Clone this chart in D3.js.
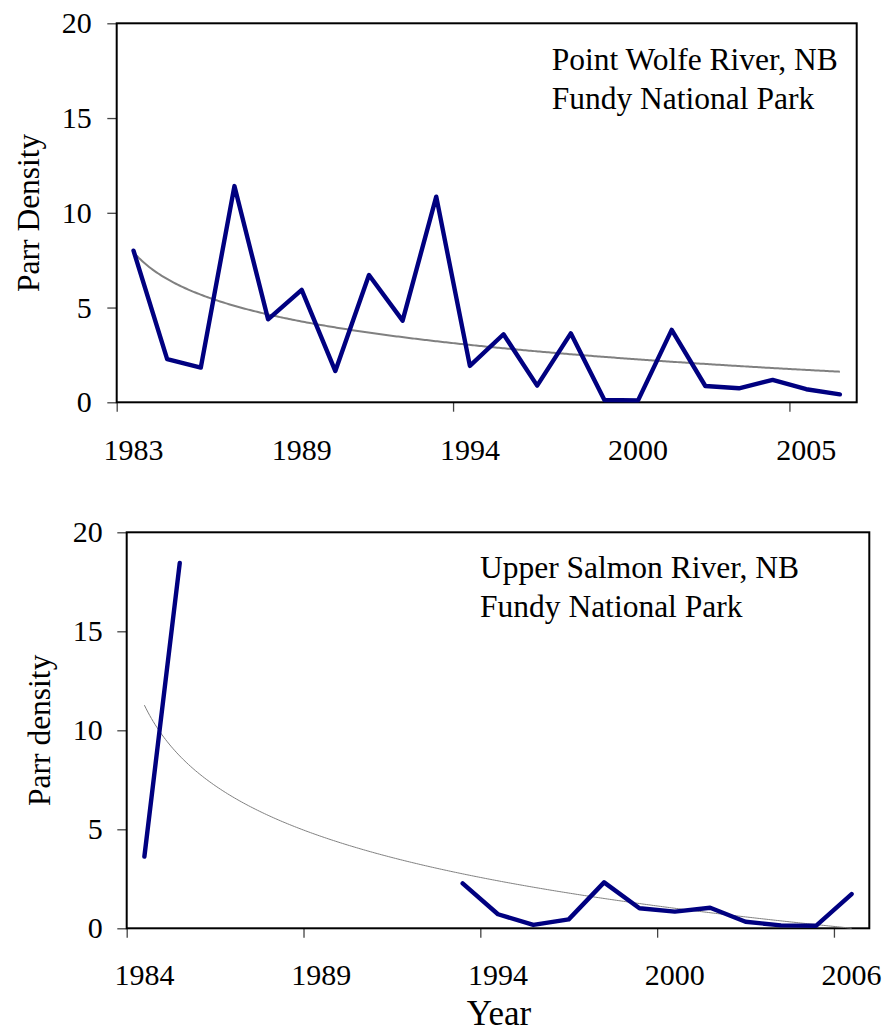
<!DOCTYPE html>
<html>
<head>
<meta charset="utf-8">
<script src="https://cdn.jsdelivr.net/npm/d3@7"></script>
<style>
  html, body { margin: 0; padding: 0; background: #fff; }
  svg { display: block; }
  text { font-family: "Liberation Serif", "Times New Roman", serif; fill: #000; }
</style>
</head>
<body>
<svg id="chart" width="885" height="1033"></svg>
<script>
// ---------- DATA ----------
const topYears = [1983,1984,1985,1986,1987,1989,1990,1991,1992,1993,1994,1995,1996,1997,1998,2000,2001,2002,2003,2004,2005,2006];
const topValues = [8.0,2.28,1.83,11.41,4.38,5.93,1.65,6.72,4.31,10.85,1.92,3.59,0.88,3.64,0.12,0.1,3.82,0.86,0.74,1.18,0.69,0.42];
const topLabelYears = [1983,1989,1994,2000,2005];
const topTickEvery = 10;
const topTrend = [-2.04, 7.92];      // logarithmic trendline: a*ln(x)+b
const topTitle = "Parr Density";
const topNote = ["Point Wolfe River, NB", "Fundy National Park"];

const botYears = [1984,1985,1986,1987,1988,1989,1990,1991,1992,1993,1994,1995,1996,1997,1998,2000,2001,2002,2003,2004,2006];
const botValues = [3.62,18.45,null,null,null,null,null,null,null,2.27,0.71,0.17,0.45,2.32,1.01,0.84,1.04,0.33,0.15,0.13,1.73];
const botLabelYears = [1984,1989,1994,2000,2006];
const botTickEvery = 5;
const botTrend = [-3.70, 11.27];
const botTitle = "Parr density";
const botNote = ["Upper Salmon River, NB", "Fundy National Park"];

const yTicks = [0,5,10,15,20];
const xTitle = "Year";

// ---------- DRAW ----------
const svg = d3.select("#chart");
const FONT = 30;

function panel(cfg) {
  const {years, values, labelYears, tickEvery, trend, title, note, box, yLabelRight, titleX, noteX, noteY, labelBaseline, trendWidth} = cfg;
  const n = years.length;
  const g = svg.append("g");
  const x = d3.scaleBand().domain(years).range([box.left, box.right]).padding(0);
  const xb = d3.scaleLinear().domain([0, n]).range([box.left, box.right]);
  const y = d3.scaleLinear().domain([0, 20]).range([box.bottom, box.top]);
  const bw = x.bandwidth();

  // y axis
  const ya = g.append("g").attr("transform", `translate(${box.left},0)`)
    .call(d3.axisLeft(y).tickValues(yTicks).tickSize(9.4).tickPadding(box.left - yLabelRight - 9.4));
  ya.select(".domain").remove();
  ya.selectAll(".tick line").attr("stroke", "#444").attr("stroke-width", 1.3);
  ya.selectAll(".tick text").style("font-size", FONT + "px").attr("font-family", null);

  // x tick marks at category boundaries
  const tickIdx = d3.range(0, n, tickEvery);
  const xa = g.append("g").attr("transform", `translate(0,${box.bottom})`)
    .call(d3.axisBottom(xb).tickValues(tickIdx).tickSize(9.4).tickFormat(""));
  xa.select(".domain").remove();
  xa.selectAll(".tick line").attr("stroke", "#444").attr("stroke-width", 1.3);

  // x labels at category centers
  const xl = g.append("g").attr("transform", `translate(0,${box.bottom})`)
    .call(d3.axisBottom(x).tickValues(labelYears).tickSize(0));
  xl.select(".domain").remove();
  xl.selectAll(".tick text").attr("y", labelBaseline - box.bottom).attr("dy", 0)
    .style("font-size", FONT + "px").attr("font-family", null);

  // frame
  g.append("rect").attr("x", box.left).attr("y", box.top)
    .attr("width", box.right - box.left).attr("height", box.bottom - box.top)
    .attr("fill", "none").attr("stroke", "#000").attr("stroke-width", 2);

  // trendline (log), x = category index + 1
  const pts = d3.range(0, 401).map(k => {
    const xi = 1 + (n - 1) * k / 400;
    return [box.left + (xi - 0.5) * bw, trend[0] * Math.log(xi) + trend[1]];
  });
  g.append("path").datum(pts)
    .attr("fill", "none").attr("stroke", "#808080").attr("stroke-width", trendWidth)
    .attr("d", d3.line().x(d => d[0]).y(d => y(Math.max(0, d[1]))));

  // data line
  const data = years.map((yr, i) => ({yr, v: values[i]}));
  g.append("path").datum(data)
    .attr("fill", "none").attr("stroke", "#000080").attr("stroke-width", 4.4)
    .attr("stroke-linejoin", "round").attr("stroke-linecap", "round")
    .attr("d", d3.line().defined(d => d.v != null).x(d => x(d.yr) + bw / 2).y(d => y(d.v)));

  // y title
  g.append("text").attr("transform", `translate(${titleX},${(box.top + box.bottom) / 2}) rotate(-90)`)
    .attr("text-anchor", "middle").style("font-size", "31.5px").text(title);

  // note
  g.append("text").attr("x", noteX).attr("y", noteY).style("font-size", "31.5px")
    .selectAll("tspan").data(note).join("tspan")
    .attr("x", noteX).attr("dy", (d, i) => i === 0 ? 0 : 39).text(d => d);
}

panel({
  years: topYears, values: topValues, labelYears: topLabelYears, tickEvery: topTickEvery,
  trend: topTrend, title: topTitle, note: topNote,
  box: {left: 116.7, right: 856.7, top: 23.3, bottom: 402.3},
  yLabelRight: 91.7, titleX: 38.5, noteX: 551.7, noteY: 70, labelBaseline: 460, trendWidth: 2
});

panel({
  years: botYears, values: botValues, labelYears: botLabelYears, tickEvery: botTickEvery,
  trend: botTrend, title: botTitle, note: botNote,
  box: {left: 126.7, right: 869.3, top: 532.3, bottom: 928.3},
  yLabelRight: 102.7, titleX: 50, noteX: 480, noteY: 578, labelBaseline: 985, trendWidth: 1
});

svg.append("text").attr("x", 499).attr("y", 1025).attr("text-anchor", "middle")
  .style("font-size", "35px").text(xTitle);
</script>
</body>
</html>
